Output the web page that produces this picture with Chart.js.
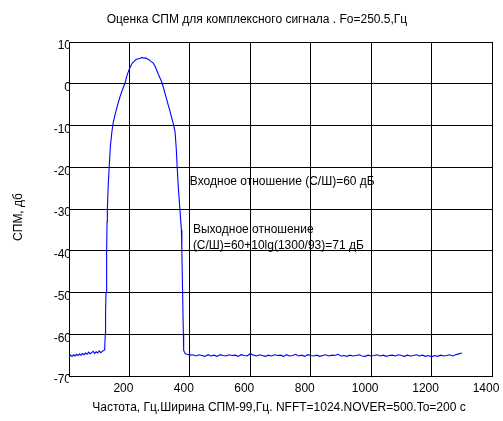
<!DOCTYPE html>
<html>
<head>
<meta charset="utf-8">
<script src="https://cdn.jsdelivr.net/npm/chart.js@4/dist/chart.umd.min.js"></script>
<style>
  html, body { margin: 0; padding: 0; background: #fff; }
  #wrap { width: 503px; height: 421px; }
</style>
</head>
<body>
<div id="wrap"><canvas id="spmChart" width="503" height="421"></canvas></div>
<script>
// частота, Гц
const freqHz = [
  0, 5, 10, 15, 20, 25, 30, 35, 40, 45, 50, 55, 60, 65, 70, 75, 80, 85, 90, 95, 100, 105, 110, 115, 118,
  120, 121, 122.5, 124.5, 126, 127, 130, 133, 137, 142, 146, 152, 160, 168, 176, 186, 192, 200, 209, 216,
  222, 230, 236, 242, 248, 254, 260, 266, 272, 278, 284, 290, 296, 303, 309, 315, 322, 328, 334, 340, 346,
  351, 355, 358, 362, 367, 372, 373.5, 376, 378.5, 379.5, 382, 385,
  390, 400, 410, 420, 430, 440, 450, 460, 470, 480, 490, 500, 510, 520, 530, 540, 550, 560, 570, 580,
  590, 600, 610, 620, 630, 640, 650, 660, 670, 680, 690, 700, 710, 720, 730, 740, 750, 760, 770, 780,
  790, 800, 810, 820, 830, 840, 850, 860, 870, 880, 890, 900, 910, 920, 930, 940, 950, 960, 970, 980,
  990, 1000, 1010, 1020, 1030, 1040, 1050, 1060, 1070, 1080, 1090, 1100, 1110, 1120, 1130, 1140, 1150,
  1160, 1170, 1180, 1190, 1200, 1210, 1220, 1230, 1240, 1250, 1260, 1270, 1280, 1290, 1300
];

// СПМ, дБ
const spmDb = [
  -65.4, -65.0, -65.3, -64.9, -65.2, -64.8, -65.1, -64.7, -65.0, -64.6, -64.9, -64.5, -64.8, -64.3, -64.7,
  -64.4, -64.1, -64.6, -64.2, -64.5, -64.0, -64.4, -64.1, -63.9, -63.7,
  -60, -55, -50, -40, -33, -30, -24, -20, -15, -11.5, -9.5, -7.5, -5.3, -3.3, -1.6, 0.3, 2, 3.6, 4.9, 5.4,
  5.8, 6.0, 6.1, 6.3, 6.1, 6.2, 5.9, 5.7, 5.3, 5.0, 4.3, 3.3, 2.2, 1.1, 0, -1.6, -3.4, -5, -6.5, -8.2, -9.8,
  -11.5, -15.5, -20, -25, -30, -35, -40, -50, -60, -63.8, -64.3, -64.7,
  -64.8, -65.0, -64.9, -65.2, -64.9, -65.1, -65.3, -64.9, -65.2, -65.0, -65.3, -64.9, -65.1, -65.2, -64.9,
  -65.1, -65.0, -65.3, -64.9, -65.1, -65.2, -64.6, -65.0, -65.2, -64.9, -65.1, -65.3, -65.0, -65.2, -64.9,
  -65.1, -65.0, -65.3, -64.9, -65.2, -65.1, -64.8, -65.2, -65.0, -65.3, -64.9, -65.1, -65.2, -65.0, -65.3,
  -65.1, -64.9, -65.2, -65.0, -65.1, -64.8, -65.2, -65.1, -65.3, -65.0, -65.2, -65.1, -64.9, -65.2, -65.3,
  -65.0, -65.2, -65.1, -64.9, -65.2, -65.0, -65.3, -65.1, -65.0, -65.2, -64.9, -65.1, -65.3, -65.0, -65.2,
  -65.1, -64.9, -65.2, -65.0, -65.3, -65.1, -65.4, -65.1, -65.3, -65.0, -65.2, -65.1, -64.9, -65.2, -64.9,
  -64.7, -64.5
];

const xTicks = [200, 400, 600, 800, 1000, 1200, 1400];
const yTicks = [10, 0, -10, -20, -30, -40, -50, -60, -70];

const titleText = 'Оценка СПМ для комплексного сигнала . Fo=250.5,Гц';
const xLabel = 'Частота, Гц.Ширина СПМ-99,Гц. NFFT=1024.NOVER=500.To=200 с';
const yLabel = 'СПМ, дб';
// подписи на графике: текст и точка привязки в координатах данных (Гц, дБ)
const notes = [
  { text: 'Входное отношение (С/Ш)=60 дБ', x: 400, y: -23.4 },
  { text: 'Выходное отношение', x: 410, y: -35 },
  { text: '(С/Ш)=60+10lg(1300/93)=71 дБ', x: 410, y: -38.7 }
];

const FONT = '"Liberation Sans", Arial, sans-serif';

const textPlugin = {
  id: 'texts',
  afterDraw(chart) {
    const ctx = chart.ctx;
    const xs = chart.scales.x, ys = chart.scales.y;
    ctx.save();
    ctx.fillStyle = '#000';
    ctx.font = '12px ' + FONT;
    ctx.textBaseline = 'middle';
    ctx.textAlign = 'center';
    ctx.fillText(titleText, 257, 20);
    ctx.fillText(xLabel, 279, 408);
    notes.forEach(n => {
      ctx.textAlign = 'left';
      ctx.fillText(n.text, xs.getPixelForValue(n.x), ys.getPixelForValue(n.y));
    });
    ctx.translate(19, 217);
    ctx.rotate(-Math.PI / 2);
    ctx.textAlign = 'center';
    ctx.fillText(yLabel, 0, 0);
    ctx.restore();
  }
};

new Chart(document.getElementById('spmChart'), {
  type: 'line',
  data: {
    datasets: [{
      data: freqHz.map((f, i) => ({ x: f, y: spmDb[i] })),
      borderColor: '#0000ff',
      borderWidth: 1.1,
      pointRadius: 0,
      tension: 0,
      fill: false
    }]
  },
  options: {
    responsive: false,
    animation: false,
    layout: { padding: { left: 0, right: 11, top: 42, bottom: 0 } },
    plugins: { legend: { display: false }, tooltip: { enabled: false } },
    scales: {
      x: {
        type: 'linear',
        min: 0,
        max: 1400,
        afterFit(s) { s.height = 45; s.paddingLeft = 0; s.paddingRight = 0; },
        afterBuildTicks(s) { s.ticks = [0].concat(xTicks).map(v => ({ value: v })); },
        ticks: {
          color: '#000',
          font: { family: FONT, size: 12 },
          padding: 5,
          labelOffset: -6,
          maxRotation: 0,
          autoSkip: false,
          callback: v => (xTicks.includes(v) ? String(v) : '')
        },
        grid: { color: '#000', lineWidth: 1, drawTicks: false },
        border: { color: '#000', width: 1 }
      },
      y: {
        min: -70,
        max: 10,
        afterFit(s) { s.width = 69; s.paddingTop = 0; s.paddingBottom = 0; },
        afterBuildTicks(s) { s.ticks = yTicks.map(v => ({ value: v })); },
        ticks: {
          color: '#000',
          font: { family: FONT, size: 12 },
          padding: -2,
          labelOffset: 4,
          autoSkip: false,
          callback: v => String(v)
        },
        grid: { color: '#000', lineWidth: 1, drawTicks: false },
        border: { color: '#000', width: 1 }
      }
    }
  },
  plugins: [textPlugin]
});
</script>
</body>
</html>
